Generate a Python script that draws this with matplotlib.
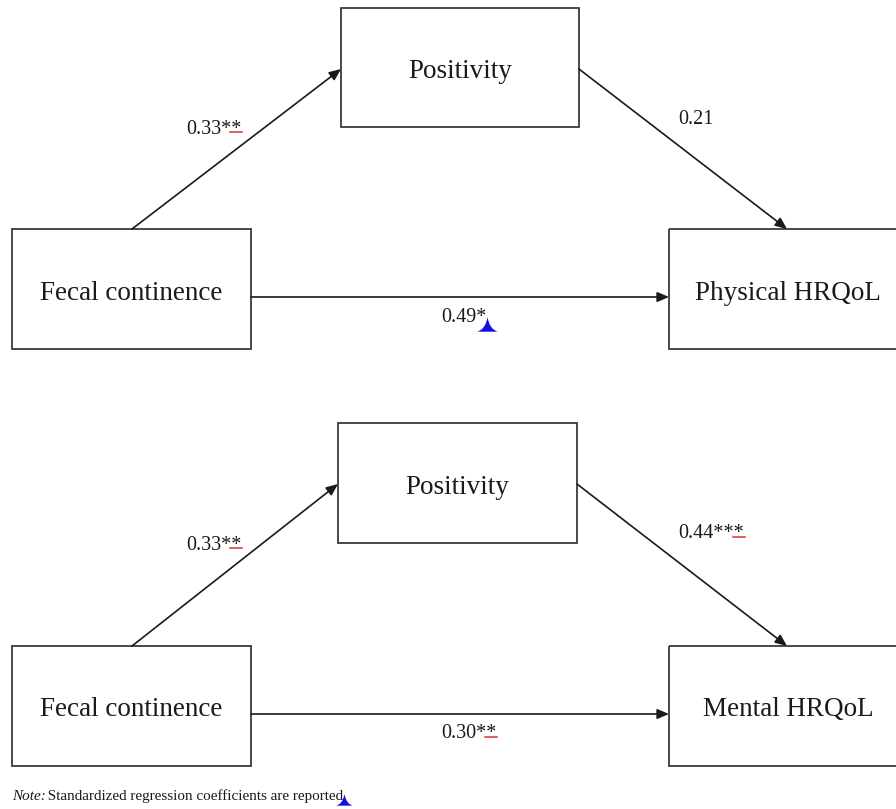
import matplotlib.pyplot as plt
from matplotlib.patches import Rectangle
from matplotlib.path import Path

plt.rcParams['font.family'] = ['Liberation Serif', 'DejaVu Serif']

# node names and path coefficients for the two mediation models
mediator = "Positivity"
predictor = "Fecal continence"
outcomes = ["Physical HRQoL", "Mental HRQoL"]
coef_a = ["0.33**", "0.33**"]
coef_b = ["0.21", "0.44***"]
coef_c = ["0.49*", "0.30**"]
note_lead = "Note:"
note_text = " Standardized regression coefficients are reported"

# layout in pixels (image coords, y down)
panels = [
    dict(med=(341, 8, 579, 127), pred=(12, 229, 251, 349), out=(669, 229, 907, 349),
         la=(186, 129), lb=(678, 119), lc=(441, 317)),
    dict(med=(338, 423, 577, 543), pred=(12, 646, 251, 766), out=(669, 646, 907, 766),
         la=(186, 545), lb=(678, 534), lc=(441, 734)),
]
# which labels carry a revision mark on the last star (Word track changes look)
underline_last = [[True, False, False], [True, True, True]]
caret_after = [[False, False, True], [False, False, False]]

# insertion caret shape
caret = Path([(-1, -0.5), (-0.2, -0.3), (0, 0.9), (0.2, -0.3), (1, -0.5), (-1, -0.5)],
             [Path.MOVETO, Path.CURVE3, Path.LINETO, Path.CURVE3, Path.LINETO, Path.CLOSEPOLY])

fig = plt.figure(figsize=(8.96, 8.09), dpi=100)
ax = fig.add_axes([0, 0, 1, 1])
ax.set_xlim(0, 896)
ax.set_ylim(809, 0)
ax.axis('off')

box_fs = 19.5
coef_fs = 14.5
edge = '#3a3a3a'


def draw_box(b, label):
    x0, y0, x1, y1 = b
    ax.add_patch(Rectangle((x0, y0), x1 - x0, y1 - y0, fill=False, ec=edge, lw=1.3))
    ax.text((x0 + x1) / 2, (y0 + y1) / 2 + 4, label, ha='center', va='center',
            fontsize=box_fs, color='#1a1a1a')


def arrow(p0, p1):
    ax.annotate('', xy=p1, xytext=p0,
                arrowprops=dict(arrowstyle='-|>,head_length=0.7,head_width=0.3',
                                color='#1a1a1a', lw=1.2, shrinkA=0, shrinkB=0))


labels = []
for i, p in enumerate(panels):
    med, pred, out = p['med'], p['pred'], p['out']
    draw_box(med, mediator)
    draw_box(pred, predictor)
    draw_box(out, outcomes[i])
    ya = med[1] + 61
    arrow((132, pred[1]), (med[0], ya))
    arrow((med[2], ya), (787, out[1]))
    yc = pred[1] + 68
    arrow((pred[2], yc), (out[0], yc))
    for j, (txt, pos) in enumerate(zip([coef_a[i], coef_b[i], coef_c[i]],
                                       [p['la'], p['lb'], p['lc']])):
        t = ax.text(pos[0], pos[1], txt, ha='left', va='center', fontsize=coef_fs,
                    color='#1a1a1a')
        labels.append((t, underline_last[i][j], caret_after[i][j]))

ax.text(12, 796, note_lead, ha='left', va='center', fontsize=10.9, style='italic',
        color='#1a1a1a')
note = ax.text(12 + 32, 796, note_text, ha='left', va='center', fontsize=10.9,
               color='#1a1a1a')

# revision marks placed from the rendered text extents
fig.canvas.draw()
r = fig.canvas.get_renderer()
inv = ax.transData.inverted()
for t, ul, car in labels:
    bb = t.get_window_extent(r)
    (x0, y0), (x1, y1) = inv.transform([(bb.x0, bb.y0), (bb.x1, bb.y1)])
    if ul:
        ax.plot([x1 - 11, x1 + 1], [y0 - 7, y0 - 7], color='#e03030', lw=1.1)
    if car:
        ax.plot([x1 + 1], [y0 - 1], marker=caret, ms=15, color='#1010e0', mec='#1010e0',
                mew=0)
bb = note.get_window_extent(r)
(x0, y0), (x1, y1) = inv.transform([(bb.x0, bb.y0), (bb.x1, bb.y1)])
ax.plot([x1 + 1], [y0 - 2], marker=caret, ms=12, color='#1010e0', mec='#1010e0', mew=0)

fig.savefig('out.png', dpi=100)
